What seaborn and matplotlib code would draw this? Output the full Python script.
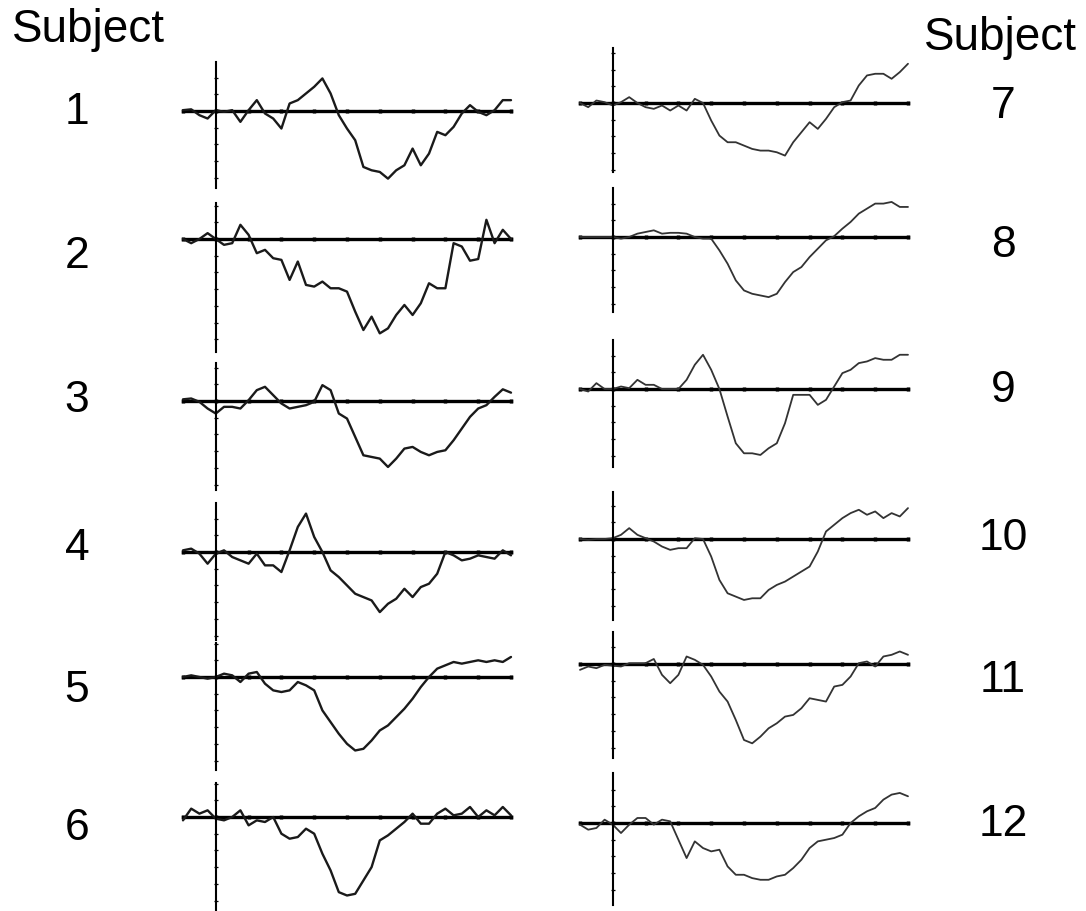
import numpy as np
import pandas as pd
import matplotlib
matplotlib.use("Agg")
import matplotlib.pyplot as plt
import seaborn as sns

# sample times in ms, one reading every 25 ms
TIME = list(range(-100, 901, 25))

# amplitudes (1 unit = one tick on the vertical axis)
SUBJ1 = [0.05, 0.1, -0.25, -0.45, 0.05, -0.05, 0.05, -0.65, 0.05, 0.65, -0.15, -0.45, -1.05, 0.45,
         0.65, 1.05, 1.45, 1.95, 1.05, -0.25, -1.05, -1.75, -3.35, -3.55, -3.65, -4.05, -3.55,
         -3.25, -2.25, -3.25, -2.55, -1.25, -1.45, -0.95, -0.15, 0.35, -0.05, -0.25, 0.05, 0.65, 0.65]
SUBJ2 = [0.0, -0.25, 0.0, 0.35, 0.0, -0.35, -0.25, 0.85, 0.25, -0.85, -0.65, -1.15, -1.25, -2.45,
         -1.35, -2.75, -2.85, -2.55, -2.95, -2.95, -3.15, -4.35, -5.45, -4.65, -5.65, -5.35, -4.55,
         -3.95, -4.55, -3.85, -2.65, -2.95, -2.95, -0.25, -0.45, -1.3, -1.2, 1.15, -0.25, 0.55, 0.0]
SUBJ3 = [0.1, 0.15, -0.05, -0.45, -0.75, -0.35, -0.35, -0.45, 0.05, 0.65, 0.85, 0.35, -0.15, -0.45,
         -0.35, -0.25, -0.05, 0.95, 0.65, -0.75, -1.05, -2.15, -3.25, -3.35, -3.45, -3.95, -3.45,
         -2.85, -2.75, -3.05, -3.25, -3.05, -2.95, -2.35, -1.65, -0.95, -0.45, -0.25, 0.25, 0.7, 0.5]
SUBJ4 = [0.1, 0.2, -0.1, -0.7, -0.1, 0.1, -0.3, -0.5, -0.7, -0.1, -0.8, -0.8, -1.2, 0.1, 1.5, 2.3,
         0.9, 0.0, -1.1, -1.5, -2.0, -2.5, -2.7, -2.9, -3.6, -3.1, -2.8, -2.2, -2.7, -2.1, -1.9,
         -1.3, 0.0, -0.2, -0.5, -0.4, -0.2, -0.3, -0.4, 0.1, -0.2]
SUBJ5 = [0.0, 0.1, 0.0, -0.1, 0.0, 0.2, 0.1, -0.3, 0.2, 0.3, -0.4, -0.8, -0.9, -0.8, -0.3, -0.5,
         -0.8, -2.0, -2.7, -3.4, -4.0, -4.4, -4.3, -3.8, -3.2, -2.9, -2.4, -1.9, -1.3, -0.6, 0.0,
         0.5, 0.7, 0.9, 0.8, 0.9, 1.0, 0.9, 1.0, 0.9, 1.2]
SUBJ6 = [-0.2, 0.5, 0.2, 0.4, -0.1, -0.2, 0.0, 0.4, -0.5, -0.2, -0.3, 0.0, -1.0, -1.3, -1.2, -0.7,
         -1.0, -2.2, -3.2, -4.5, -4.7, -4.6, -3.8, -3.0, -1.4, -1.1, -0.7, -0.3, 0.2, -0.4, -0.4,
         0.2, 0.5, 0.1, 0.2, 0.6, 0.0, 0.4, 0.1, 0.6, 0.1]
SUBJ7 = [0.0, -0.25, 0.15, 0.05, -0.15, 0.05, 0.35, 0.0, -0.25, -0.35, -0.15, -0.45, -0.15, -0.45,
         0.25, 0.0, -1.05, -1.95, -2.35, -2.35, -2.55, -2.75, -2.85, -2.85, -2.95, -3.15, -2.35,
         -1.75, -1.15, -1.55, -0.95, -0.25, 0.05, 0.15, 1.05, 1.65, 1.75, 1.75, 1.45, 1.85, 2.35]
SUBJ8 = [0.0, 0.0, 0.0, 0.0, 0.0, -0.1, 0.0, 0.2, 0.3, 0.4, 0.2, 0.25, 0.25, 0.2, 0.0, -0.1, -0.1,
         -0.8, -1.6, -2.6, -3.2, -3.4, -3.5, -3.6, -3.4, -2.7, -2.1, -1.8, -1.2, -0.7, -0.2, 0.05,
         0.5, 0.9, 1.4, 1.7, 2.0, 2.0, 2.1, 1.8, 1.8]
SUBJ9 = [0.0, -0.15, 0.35, 0.0, 0.0, 0.15, 0.05, 0.55, 0.25, 0.25, 0.0, 0.0, 0.0, 0.55, 1.45, 2.05,
         1.15, 0.0, -1.65, -3.25, -3.85, -3.85, -3.95, -3.55, -3.25, -2.05, -0.35, -0.35, -0.35,
         -0.95, -0.65, 0.15, 0.95, 1.15, 1.55, 1.65, 1.85, 1.75, 1.75, 2.05, 2.05]
SUBJ10 = [0.0, -0.05, 0.0, 0.0, 0.05, 0.25, 0.65, 0.25, 0.05, -0.15, -0.45, -0.65, -0.55, -0.55,
          0.05, 0.0, -1.05, -2.45, -3.25, -3.45, -3.65, -3.55, -3.55, -3.05, -2.75, -2.55, -2.25,
          -1.95, -1.65, -0.75, 0.45, 0.85, 1.25, 1.55, 1.75, 1.45, 1.65, 1.25, 1.55, 1.35, 1.85]
SUBJ11 = [-0.35, -0.15, -0.25, -0.05, -0.1, -0.15, 0.05, 0.05, 0.05, 0.3, -0.65, -1.15, -0.65, 0.45,
          0.25, -0.05, -0.75, -1.65, -2.25, -3.35, -4.55, -4.75, -4.35, -3.85, -3.55, -3.15, -3.05,
          -2.65, -2.05, -2.15, -2.25, -1.35, -1.25, -0.75, 0.05, 0.15, -0.15, 0.45, 0.55, 0.75, 0.55]
SUBJ12 = [-0.1, -0.4, -0.3, 0.2, -0.1, -0.6, -0.1, 0.3, 0.3, -0.1, 0.2, 0.1, -1.0, -2.1, -1.1, -1.5,
          -1.7, -1.6, -2.6, -3.1, -3.1, -3.3, -3.4, -3.4, -3.2, -3.1, -2.7, -2.2, -1.5, -1.1, -1.0,
          -0.9, -0.7, 0.0, 0.4, 0.7, 0.9, 1.4, 1.7, 1.8, 1.6]

SUBJECTS = [SUBJ1, SUBJ2, SUBJ3, SUBJ4, SUBJ5, SUBJ6,
            SUBJ7, SUBJ8, SUBJ9, SUBJ10, SUBJ11, SUBJ12]
LABELS = ["1", "2", "3", "4", "5", "6", "7", "8", "9", "10", "11", "12"]

W, H = 1086, 911
PX_PER_UNIT = 16.7

# panel pixel boxes: (top of vertical axis, bottom of vertical axis, baseline)
BOXES = [(62, 188, 111), (203, 352, 239), (363, 490, 401), (503, 640, 552), (643, 770, 677),
         (783, 910, 817), (48, 172, 103), (188, 312, 237), (340, 467, 389), (492, 620, 539),
         (632, 758, 664), (773, 905, 823)]
LABEL_Y = [112, 256, 401, 549, 691, 829, 106, 246, 391, 538, 681, 824]

sns.set_style("white")
plt.rcParams['font.family'] = ['Liberation Sans', 'DejaVu Sans']
plt.rcParams['text.color'] = 'black'
plt.rcParams['axes.edgecolor'] = 'black'

fig = plt.figure(figsize=(W / 100, H / 100), dpi=100)

for i, vals in enumerate(SUBJECTS):
    top, bottom, base = BOXES[i]
    if i < 6:
        x0, x1 = 183, 511
        lw, col = 1.7, "#1a1a1a"
    else:
        x0, x1 = 580, 908
        lw, col = 1.3, "#333333"
    ax = fig.add_axes([x0 / W, 1 - bottom / H, (x1 - x0) / W, (bottom - top) / H])
    df = pd.DataFrame({"time": TIME, "amp": vals})
    sns.lineplot(data=df, x="time", y="amp", ax=ax, color=col, linewidth=lw)
    ax.set_xlim(-100, 900)
    ax.set_ylim(-(bottom - base) / PX_PER_UNIT, (base - top) / PX_PER_UNIT)
    for line in ax.get_lines():
        line.set_clip_on(False)
    ax.patch.set_alpha(0)
    ax.spines["top"].set_visible(False)
    ax.spines["right"].set_visible(False)
    ax.spines["left"].set_position(("data", 0))
    ax.spines["bottom"].set_position(("data", 0))
    ax.spines["bottom"].set_linewidth(2.4)
    ax.spines["left"].set_linewidth(1.5)
    ax.spines["bottom"].set_zorder(1)
    ax.set_xticks(range(-100, 901, 100))
    ax.set_yticks(np.arange(np.ceil(ax.get_ylim()[0]), ax.get_ylim()[1], 1.0))
    ax.tick_params(axis="x", bottom=True, direction="inout", length=3, width=2.5,
                   colors="black", labelbottom=False)
    ax.tick_params(axis="y", left=True, direction="inout", length=3.5, width=0.9,
                   colors="black", labelleft=False)
    ax.set_xlabel("")
    ax.set_ylabel("")
    lx = 77 if i < 6 else 1003
    fig.text(lx / W, 1 - LABEL_Y[i] / H, LABELS[i], fontsize=32, ha="center", va="center")

fig.text(88 / W, 1 - 30 / H, "Subject", fontsize=33, ha="center", va="center")
fig.text(1000 / W, 1 - 38 / H, "Subject", fontsize=33, ha="center", va="center")

fig.savefig("out.png", dpi=100, facecolor="white")
